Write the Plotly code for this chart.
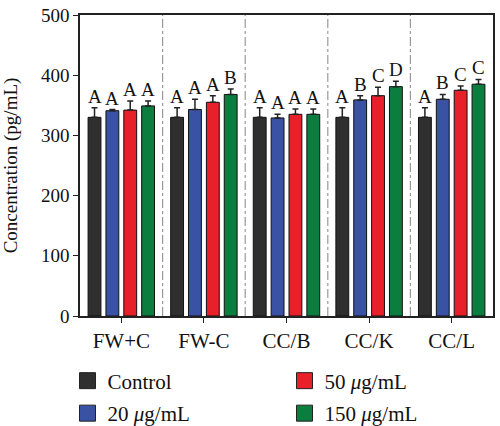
import plotly.graph_objects as go

categories = ["FW+C", "FW-C", "CC/B", "CC/K", "CC/L"]
series_names = ["Control", "20 <i>μ</i>g/mL", "50 <i>μ</i>g/mL", "150 <i>μ</i>g/mL"]
control = [330, 330, 330, 330, 330]
conc20 = [341, 343, 329, 359, 360]
conc50 = [342, 355, 335, 366, 375]
conc150 = [349, 368, 335, 381, 385]
err_control = [16, 16, 16, 16, 16]
err20 = [2, 17, 6, 7, 8]
err50 = [15, 11, 9, 14, 7]
err150 = [8, 9, 9, 9, 8]
letters_control = ["A", "A", "A", "A", "A"]
letters20 = ["A", "A", "A", "B", "B"]
letters50 = ["A", "A", "A", "C", "C"]
letters150 = ["A", "B", "A", "D", "C"]
y_ticks = [0, 100, 200, 300, 400, 500]

values = [control, conc20, conc50, conc150]
errors = [err_control, err20, err50, err150]
letters = [letters_control, letters20, letters50, letters150]
colors = ["#2f2f2f", "#3a52a3", "#e8202a", "#0b7d3e"]
legend_ids = ["legend", "legend2", "legend3", "legend4"]

FONT = "Liberation Serif"
bargap = 0.135
bargroupgap = 0.28

fig = go.Figure()
xs = list(range(len(categories)))
for j in range(4):
    fig.add_trace(go.Bar(
        x=xs, y=values[j], name=series_names[j], showlegend=False,
        marker=dict(color=colors[j], line=dict(color="#111111", width=1)),
        error_y=dict(type="data", array=errors[j], arrayminus=[0]*len(xs),
                     symmetric=False, color="#222222", thickness=1.5, width=3),
    ))
# legend entries (square swatches)
for j in range(4):
    fig.add_trace(go.Scatter(
        x=[None], y=[None], mode="markers", name=series_names[j],
        marker=dict(symbol="square", size=16, color=colors[j],
                    line=dict(color="#222222", width=1)),
        legend=legend_ids[j], showlegend=True,
    ))

slot = (1 - bargap) / 4
annotations = []
for j in range(4):
    for i in xs:
        annotations.append(dict(
            x=i + (j - 1.5) * slot, y=values[j][i] + errors[j][i],
            text=letters[j][i], showarrow=False, yanchor="bottom",
            xanchor="center", yshift=-1,
            font=dict(family=FONT, size=19, color="#111111"),
        ))

shapes = []
for i in range(len(categories) - 1):
    shapes.append(dict(type="line", xref="x", yref="y", x0=i + 0.5, x1=i + 0.5,
                       y0=0, y1=500, line=dict(color="#999999", width=1.2, dash="dashdot")))

legend_common = dict(orientation="h", xanchor="left", xref="container", yref="container",
                     yanchor="middle", itemsizing="trace",
                     font=dict(family=FONT, size=21, color="#111111"),
                     bgcolor="rgba(0,0,0,0)")
col1 = 0.135
col2 = 0.135 + 217 / 500
row1 = 1 - 381 / 426
row2 = 1 - 413.5 / 426

fig.update_layout(
    width=500, height=426,
    margin=dict(l=80, r=5, t=13, b=110),
    paper_bgcolor="white", plot_bgcolor="white",
    barmode="group", bargap=bargap, bargroupgap=bargroupgap,
    font=dict(family=FONT, size=19, color="#111111"),
    showlegend=True,
    legend=dict(x=col1, y=row1, **legend_common),
    legend2=dict(x=col1, y=row2, **legend_common),
    legend3=dict(x=col2, y=row1, **legend_common),
    legend4=dict(x=col2, y=row2, **legend_common),
    annotations=annotations, shapes=shapes,
    xaxis=dict(range=[-0.5, 4.5], tickmode="array", tickvals=xs, ticktext=categories,
               showline=True, linecolor="#222222", linewidth=1.5, mirror=True,
               ticks="outside", ticklen=5, tickcolor="#222222", showgrid=False,
               zeroline=False, tickfont=dict(family=FONT, size=21)),
    yaxis=dict(range=[0, 500], tickvals=y_ticks, showline=True, linecolor="#222222",
               linewidth=1.5, mirror=True, ticks="outside", ticklen=5,
               tickcolor="#222222", showgrid=False, zeroline=False,
               title=dict(text="Concentration (pg/mL)", font=dict(family=FONT, size=19), standoff=18),
               tickfont=dict(family=FONT, size=19)),
)

fig.write_html("out.html", post_script="document.body.style.margin='0';",
               config={"displayModeBar": False})
